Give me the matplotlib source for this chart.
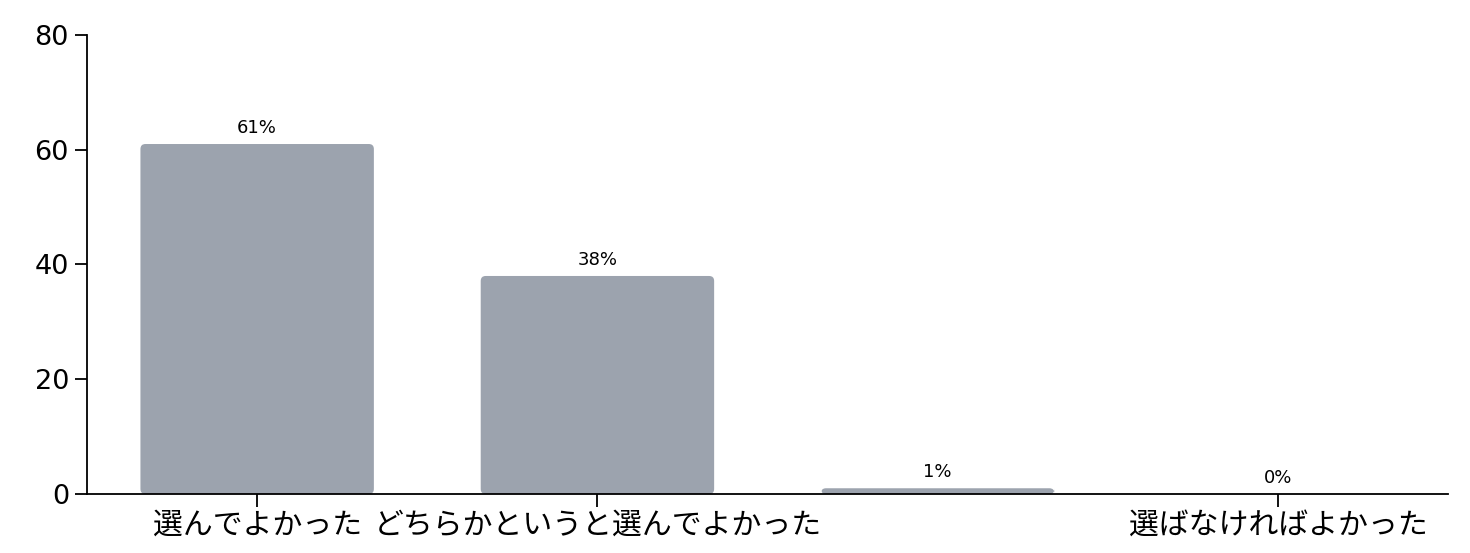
import numpy as np
import matplotlib
matplotlib.use('Agg')
import matplotlib.pyplot as plt
from matplotlib.patches import FancyBboxPatch

plt.rcParams['font.family'] = ['Noto Sans CJK JP', 'DejaVu Sans']

categories = ['選んでよかった', 'どちらかというと選んでよかった',
              'どちらかというと選ばなければよかった', '選ばなければよかった']
values = [61, 38, 1, 0]
shown_ticks = [0, 1, 3]  # third label is hidden in the original chart

fig = plt.figure(figsize=(14.7, 5.53), dpi=100)
ax = fig.add_axes([0.0592, 0.1067, 0.9259, 0.83])

x = np.arange(len(categories))
bars = ax.bar(x, values, width=0.686, color='#9ca3ae')

ax.set_xlim(-0.5, len(categories) - 0.5)
ax.set_ylim(0, 80)

# swap plain rectangles for ones with rounded corners
px_x = 340.0
px_y = 459.0 / 80
for b in bars:
    if b.get_height() <= 0:
        b.set_visible(False)
        continue
    r = 5.0 / px_x
    fb = FancyBboxPatch((b.get_x(), b.get_y()), b.get_width(), b.get_height(),
                        boxstyle=f'round,pad=0,rounding_size={r}',
                        mutation_aspect=px_x / px_y,
                        facecolor='#9ca3ae', edgecolor='none', clip_on=False)
    ax.add_patch(fb)
    b.set_visible(False)

for xi, v in zip(x, values):
    ax.text(xi, v + 1.3, f'{v}%', ha='center', va='bottom', fontsize=13,
            family='DejaVu Sans')

ax.set_xticks([x[i] for i in shown_ticks])
ax.set_xticklabels([categories[i] for i in shown_ticks], fontsize=21.5)
ax.set_yticks([0, 20, 40, 60, 80])
ax.tick_params(axis='y', labelsize=19.5, length=9, width=1.3, pad=4)
for t in ax.get_yticklabels():
    t.set_family('DejaVu Sans')
ax.tick_params(axis='x', length=9, width=1.3, pad=2)

ax.spines['top'].set_visible(False)
ax.spines['right'].set_visible(False)
ax.spines['left'].set_linewidth(1.3)
ax.spines['bottom'].set_linewidth(1.3)

fig.savefig('out.png', dpi=100)
